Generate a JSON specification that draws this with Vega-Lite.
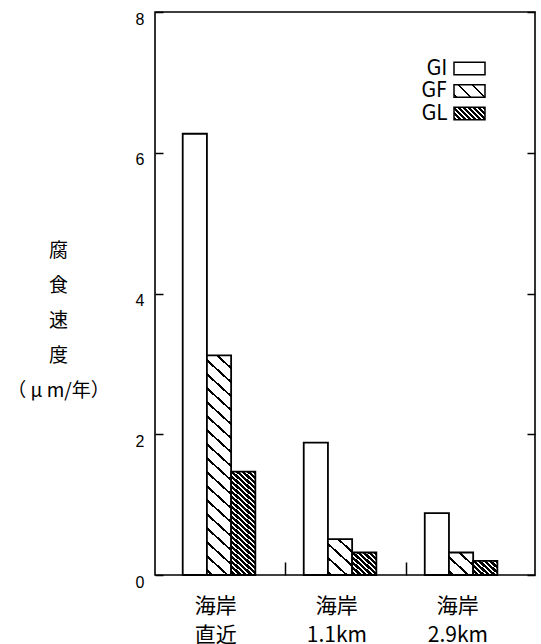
{
  "$schema": "https://vega.github.io/schema/vega-lite/v6.json",
  "width": 380,
  "height": 563,
  "autosize": {"type": "none"},
  "padding": {"left": 155, "top": 12, "right": 6, "bottom": 69},
  "background": "white",
  "params": [
    {"name": "gfStops", "value": [
      {"offset": 0, "color": "#fff"},
      {"offset": 0.041, "color": "#fff"}, {"offset": 0.041, "color": "#000"}, {"offset": 0.05, "color": "#000"}, {"offset": 0.05, "color": "#fff"},
      {"offset": 0.091, "color": "#fff"}, {"offset": 0.091, "color": "#000"}, {"offset": 0.1, "color": "#000"}, {"offset": 0.1, "color": "#fff"},
      {"offset": 0.141, "color": "#fff"}, {"offset": 0.141, "color": "#000"}, {"offset": 0.15, "color": "#000"}, {"offset": 0.15, "color": "#fff"},
      {"offset": 0.191, "color": "#fff"}, {"offset": 0.191, "color": "#000"}, {"offset": 0.2, "color": "#000"}, {"offset": 0.2, "color": "#fff"},
      {"offset": 0.241, "color": "#fff"}, {"offset": 0.241, "color": "#000"}, {"offset": 0.25, "color": "#000"}, {"offset": 0.25, "color": "#fff"},
      {"offset": 0.291, "color": "#fff"}, {"offset": 0.291, "color": "#000"}, {"offset": 0.3, "color": "#000"}, {"offset": 0.3, "color": "#fff"},
      {"offset": 0.341, "color": "#fff"}, {"offset": 0.341, "color": "#000"}, {"offset": 0.35, "color": "#000"}, {"offset": 0.35, "color": "#fff"},
      {"offset": 0.391, "color": "#fff"}, {"offset": 0.391, "color": "#000"}, {"offset": 0.4, "color": "#000"}, {"offset": 0.4, "color": "#fff"},
      {"offset": 0.441, "color": "#fff"}, {"offset": 0.441, "color": "#000"}, {"offset": 0.45, "color": "#000"}, {"offset": 0.45, "color": "#fff"},
      {"offset": 0.491, "color": "#fff"}, {"offset": 0.491, "color": "#000"}, {"offset": 0.5, "color": "#000"}, {"offset": 0.5, "color": "#fff"},
      {"offset": 0.541, "color": "#fff"}, {"offset": 0.541, "color": "#000"}, {"offset": 0.55, "color": "#000"}, {"offset": 0.55, "color": "#fff"},
      {"offset": 0.591, "color": "#fff"}, {"offset": 0.591, "color": "#000"}, {"offset": 0.6, "color": "#000"}, {"offset": 0.6, "color": "#fff"},
      {"offset": 0.641, "color": "#fff"}, {"offset": 0.641, "color": "#000"}, {"offset": 0.65, "color": "#000"}, {"offset": 0.65, "color": "#fff"},
      {"offset": 0.691, "color": "#fff"}, {"offset": 0.691, "color": "#000"}, {"offset": 0.7, "color": "#000"}, {"offset": 0.7, "color": "#fff"},
      {"offset": 0.741, "color": "#fff"}, {"offset": 0.741, "color": "#000"}, {"offset": 0.75, "color": "#000"}, {"offset": 0.75, "color": "#fff"},
      {"offset": 0.791, "color": "#fff"}, {"offset": 0.791, "color": "#000"}, {"offset": 0.8, "color": "#000"}, {"offset": 0.8, "color": "#fff"},
      {"offset": 0.841, "color": "#fff"}, {"offset": 0.841, "color": "#000"}, {"offset": 0.85, "color": "#000"}, {"offset": 0.85, "color": "#fff"},
      {"offset": 0.891, "color": "#fff"}, {"offset": 0.891, "color": "#000"}, {"offset": 0.9, "color": "#000"}, {"offset": 0.9, "color": "#fff"},
      {"offset": 1, "color": "#fff"}
    ]},
    {"name": "glStops", "value": [
      {"offset": 0, "color": "#000"},
      {"offset": 0.016, "color": "#000"}, {"offset": 0.016, "color": "#fff"}, {"offset": 0.025, "color": "#fff"}, {"offset": 0.025, "color": "#000"},
      {"offset": 0.041, "color": "#000"}, {"offset": 0.041, "color": "#fff"}, {"offset": 0.05, "color": "#fff"}, {"offset": 0.05, "color": "#000"},
      {"offset": 0.066, "color": "#000"}, {"offset": 0.066, "color": "#fff"}, {"offset": 0.075, "color": "#fff"}, {"offset": 0.075, "color": "#000"},
      {"offset": 0.091, "color": "#000"}, {"offset": 0.091, "color": "#fff"}, {"offset": 0.1, "color": "#fff"}, {"offset": 0.1, "color": "#000"},
      {"offset": 0.116, "color": "#000"}, {"offset": 0.116, "color": "#fff"}, {"offset": 0.125, "color": "#fff"}, {"offset": 0.125, "color": "#000"},
      {"offset": 0.141, "color": "#000"}, {"offset": 0.141, "color": "#fff"}, {"offset": 0.15, "color": "#fff"}, {"offset": 0.15, "color": "#000"},
      {"offset": 0.166, "color": "#000"}, {"offset": 0.166, "color": "#fff"}, {"offset": 0.175, "color": "#fff"}, {"offset": 0.175, "color": "#000"},
      {"offset": 0.191, "color": "#000"}, {"offset": 0.191, "color": "#fff"}, {"offset": 0.2, "color": "#fff"}, {"offset": 0.2, "color": "#000"},
      {"offset": 0.216, "color": "#000"}, {"offset": 0.216, "color": "#fff"}, {"offset": 0.225, "color": "#fff"}, {"offset": 0.225, "color": "#000"},
      {"offset": 0.241, "color": "#000"}, {"offset": 0.241, "color": "#fff"}, {"offset": 0.25, "color": "#fff"}, {"offset": 0.25, "color": "#000"},
      {"offset": 0.266, "color": "#000"}, {"offset": 0.266, "color": "#fff"}, {"offset": 0.275, "color": "#fff"}, {"offset": 0.275, "color": "#000"},
      {"offset": 0.291, "color": "#000"}, {"offset": 0.291, "color": "#fff"}, {"offset": 0.3, "color": "#fff"}, {"offset": 0.3, "color": "#000"},
      {"offset": 0.316, "color": "#000"}, {"offset": 0.316, "color": "#fff"}, {"offset": 0.325, "color": "#fff"}, {"offset": 0.325, "color": "#000"},
      {"offset": 0.341, "color": "#000"}, {"offset": 0.341, "color": "#fff"}, {"offset": 0.35, "color": "#fff"}, {"offset": 0.35, "color": "#000"},
      {"offset": 0.366, "color": "#000"}, {"offset": 0.366, "color": "#fff"}, {"offset": 0.375, "color": "#fff"}, {"offset": 0.375, "color": "#000"},
      {"offset": 0.391, "color": "#000"}, {"offset": 0.391, "color": "#fff"}, {"offset": 0.4, "color": "#fff"}, {"offset": 0.4, "color": "#000"},
      {"offset": 0.416, "color": "#000"}, {"offset": 0.416, "color": "#fff"}, {"offset": 0.425, "color": "#fff"}, {"offset": 0.425, "color": "#000"},
      {"offset": 0.441, "color": "#000"}, {"offset": 0.441, "color": "#fff"}, {"offset": 0.45, "color": "#fff"}, {"offset": 0.45, "color": "#000"},
      {"offset": 0.466, "color": "#000"}, {"offset": 0.466, "color": "#fff"}, {"offset": 0.475, "color": "#fff"}, {"offset": 0.475, "color": "#000"},
      {"offset": 0.491, "color": "#000"}, {"offset": 0.491, "color": "#fff"}, {"offset": 0.5, "color": "#fff"}, {"offset": 0.5, "color": "#000"},
      {"offset": 0.516, "color": "#000"}, {"offset": 0.516, "color": "#fff"}, {"offset": 0.525, "color": "#fff"}, {"offset": 0.525, "color": "#000"},
      {"offset": 0.541, "color": "#000"}, {"offset": 0.541, "color": "#fff"}, {"offset": 0.55, "color": "#fff"}, {"offset": 0.55, "color": "#000"},
      {"offset": 0.566, "color": "#000"}, {"offset": 0.566, "color": "#fff"}, {"offset": 0.575, "color": "#fff"}, {"offset": 0.575, "color": "#000"},
      {"offset": 0.591, "color": "#000"}, {"offset": 0.591, "color": "#fff"}, {"offset": 0.6, "color": "#fff"}, {"offset": 0.6, "color": "#000"},
      {"offset": 0.616, "color": "#000"}, {"offset": 0.616, "color": "#fff"}, {"offset": 0.625, "color": "#fff"}, {"offset": 0.625, "color": "#000"},
      {"offset": 0.641, "color": "#000"}, {"offset": 0.641, "color": "#fff"}, {"offset": 0.65, "color": "#fff"}, {"offset": 0.65, "color": "#000"},
      {"offset": 1, "color": "#000"}
    ]}
  ],
  "data": {
    "values": [
      {"site": "海岸 直近", "type": "GI", "rate": 6.27},
      {"site": "海岸 直近", "type": "GF", "rate": 3.12},
      {"site": "海岸 直近", "type": "GL", "rate": 1.47},
      {"site": "海岸 1.1km", "type": "GI", "rate": 1.88},
      {"site": "海岸 1.1km", "type": "GF", "rate": 0.51},
      {"site": "海岸 1.1km", "type": "GL", "rate": 0.32},
      {"site": "海岸 2.9km", "type": "GI", "rate": 0.88},
      {"site": "海岸 2.9km", "type": "GF", "rate": 0.32},
      {"site": "海岸 2.9km", "type": "GL", "rate": 0.2}
    ]
  },
  "encoding": {
    "x": {
      "field": "site",
      "type": "nominal",
      "sort": ["海岸 直近", "海岸 1.1km", "海岸 2.9km"],
      "scale": {"paddingInner": 0, "paddingOuter": 0.07, "align": 0.55},
      "axis": {
        "title": null,
        "domain": false,
        "grid": false,
        "bandPosition": 1,
        "tickSize": -13,
        "tickWidth": 1.5,
        "tickColor": "black",
        "tickOpacity": {"condition": {"test": "datum.value === '海岸 2.9km'", "value": 0}, "value": 1},
        "labelExpr": "split(datum.label, ' ')",
        "labelAngle": 0,
        "labelFont": "Noto Sans CJK JP",
        "labelFontSize": 21,
        "labelLineHeight": 29,
        "labelBaseline": "top",
        "labelPadding": 33,
        "labelOffset": -9,
        "labelColor": "black"
      }
    },
    "xOffset": {
      "field": "type",
      "type": "nominal",
      "sort": ["GI", "GF", "GL"],
      "scale": {"paddingInner": 0, "paddingOuter": 1.25, "align": 0.38}
    }
  },
  "layer": [
    {
      "mark": {"type": "bar"},
      "encoding": {
        "y": {
          "field": "rate",
          "type": "quantitative",
          "scale": {"domain": [0, 8], "nice": false},
          "axis": {
            "title": ["腐", "食", "速", "度", "（ μ m/年）"],
            "titleAngle": 0,
            "titleX": -97,
            "titleY": 229,
            "titleAlign": "center",
            "titleBaseline": "top",
            "titleLineHeight": 35,
            "titleFont": "Noto Sans CJK JP",
            "titleFontSize": 19,
            "titleFontWeight": "normal",
            "titleColor": "black",
            "values": [0, 2, 4, 6, 8],
            "domain": false,
            "grid": false,
            "tickSize": -8,
            "tickWidth": 1.5,
            "tickColor": "black",
            "labelFont": "Liberation Sans",
            "labelFontSize": 16,
            "labelPadding": 19,
            "labelOffset": 7,
            "labelFlush": false,
            "labelBound": false,
            "labelColor": "black"
          }
        },
        "fill": {
          "field": "type",
          "type": "nominal",
          "sort": ["GI", "GF", "GL"],
          "scale": {
            "domain": ["GI", "GF", "GL"],
            "range": [
              "#ffffff",
              {"expr": "{gradient: 'linear', x1: 1, y1: 0, x2: -6.79, y2: 3.11, stops: gfStops}"},
              {"expr": "{gradient: 'linear', x1: 1, y1: 0, x2: -4.56, y2: 2.23, stops: glStops}"}
            ]
          },
          "legend": {
            "orient": "none",
            "legendX": 304,
            "legendY": 46,
            "title": null,
            "padding": 0,
            "direction": "vertical",
            "symbolType": "M-2,-0.8H2V0.8H-2Z",
            "symbolSize": 240.25,
            "symbolStrokeColor": "black",
            "symbolStrokeWidth": 1.5,
            "labelAlign": "right",
            "labelOffset": -33,
            "labelFont": "Liberation Sans Narrow, DejaVu Sans Condensed, sans-serif",
            "labelFontSize": 21,
            "labelColor": "black",
            "rowPadding": 0.5
          }
        }
      }
    },
    {
      "mark": {
        "type": "bar",
        "stroke": "black",
        "strokeWidth": 1.8,
        "fill": {"expr": "datum.type === 'GI' ? 'white' : {gradient: 'linear', x1: 1, y1: 0, x2: 1 - 22 * (datum.type === 'GF' ? 280 : 200) / (484 + pow(datum.rate * 70.375, 2)), y2: datum.rate * 70.375 * (datum.type === 'GF' ? 280 : 200) / (484 + pow(datum.rate * 70.375, 2)), stops: datum.type === 'GF' ? gfStops : glStops}"}
      },
      "encoding": {
        "y": {
          "field": "rate",
          "type": "quantitative",
          "scale": {"domain": [0, 8], "nice": false},
          "axis": {
            "orient": "right",
            "title": null,
            "values": [0, 2, 4, 6, 8],
            "labels": false,
            "domain": false,
            "grid": false,
            "tickSize": -8,
            "tickWidth": 1.5,
            "tickColor": "black"
          }
        }
      }
    }
  ],
  "resolve": {"axis": {"y": "independent"}},
  "config": {
    "view": {"stroke": "black", "strokeWidth": 1.6},
    "font": "Liberation Sans"
  }
}
